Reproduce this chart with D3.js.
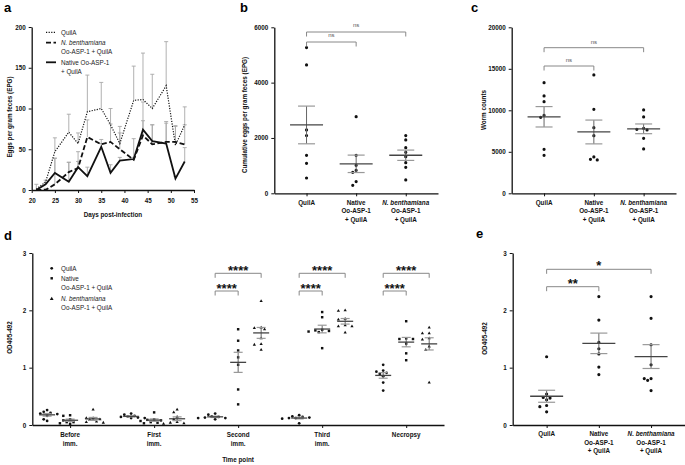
<!DOCTYPE html>
<html>
<head>
<meta charset="utf-8">
<script src="https://cdn.jsdelivr.net/npm/d3@7"></script>
<style>
body{margin:0;background:#fff}
text{font-family:"Liberation Sans",Arial,sans-serif}
</style>
</head>
<body>
<svg width="685" height="465"></svg>
<script>
// ---- panel a : EPG over time ----
var days = [21, 23, 25, 28, 30, 32, 35, 37, 39, 42, 44, 46, 49, 51, 53];
var epgQuilA      = [1, 10, 47, 71, 57, 96, 100, 80, 57, 110, 111, 100, 128, 55, 80];
var epgQuilAUp    = [7, 12, 64, 93, 70, 141, 132, 100, 78, 152, 168, 142, 182, 79, 102];
var epgNbenth     = [0, 0, 7, 22, 27, 65, 56, 59, 50, 37, 67, 56, 59, 59, 56];
var epgNbenthUp   = [0, 2, 39, 34, 47, 86, 62, 81, 70, 63, 108, 80, 84, 78, 80];
var epgNative     = [0, 7, 21, 10, 28, 17, 53, 21, 36, 38, 74, 60, 57, 14, 35];
var epgNativeUp   = [0, 9, 39, 34, 35, 28, 57, 31, 40, 40, 85, 80, 82, 17, 52];
var xTicksA = [20, 25, 30, 35, 40, 45, 50, 55];
var yTicksA = [0, 50, 100, 150, 200];

// ---- panels b, c, e : groups ----
var catsBCE = [["QuilA"], ["Native", "Oo-ASP-1", "+ QuilA"], ["N. benthamiana", "Oo-ASP-1", "+ QuilA"]];
var cumQuilA  = [5266, 4640, 2290, 2085, 1374, 1085, 554];
var cumNative = [2771, 1374, 1012, 831, 759, 422, 289];
var cumNbenth = [2085, 1928, 1650, 1482, 1325, 1108, 940, 482];
var yTicksB = [0, 2000, 4000, 6000];

var wormQuilA  = [13333, 11727, 11044, 9398, 9157, 5301, 4578];
var wormNative = [14257, 10120, 7912, 6948, 4377, 4016, 4096];
var wormNbenth = [10040, 9197, 7831, 7711, 7630, 6626, 5341];
var yTicksC = [0, 5000, 10000, 15000, 20000];

var odQuilA  = [1.19, 0.54, 0.48, 0.47, 0.44, 0.34, 0.32, 0.23];
var odNative = [2.24, 1.83, 1.44, 1.33, 1.24, 1.01, 0.88];
var odNbenth = [2.24, 1.86, 1.40, 1.05, 0.81, 0.78, 0.60, 0.81];
var yTicksOD = [0, 1, 2, 3];

var sigB = ["ns", "ns"];
var sigC = ["ns", "ns"];
var sigE = ["*", "**"];

// ---- panel d : OD by time point ----
var catsD = [["Before", "imm."], ["First", "imm."], ["Second", "imm."], ["Third", "imm."], ["Necropsy"]];
var tpQuilA = [
  [0.07, 0.16, 0.20, 0.23, 0.26, 0.19, 0.10, 0.21],
  [0.13, 0.15, 0.12, 0.18, 0.20, 0.12, 0.14, 0.16],
  [0.12, 0.15, 0.18, 0.20, 0.10, 0.13, 0.14, 0.12],
  [0.17, 0.15, 0.13, 0.12, 0.12, 0.11, 0.03, 0.14],
  [1.05, 0.95, 0.93, 0.91, 0.89, 0.85, 0.74, 0.60]];
var tpNative = [
  [0.05, 0.08, 0.03, 0.10, 0.16, 0.17, 0.05, 0.02],
  [0.22, 0.05, 0.08, 0.10, 0.03, 0.09, 0.04, 0.07],
  [1.67, 1.47, 1.30, 1.18, 1.05, 0.62, 0.36],
  [1.97, 1.88, 1.65, 1.63, 1.62, 1.64, 1.66, 1.34],
  [1.81, 1.50, 1.51, 1.50, 1.42, 1.25, 1.13]];
var tpNbenth = [
  [0.27, 0.12, 0.10, 0.06, 0.05, 0.04, 0.12, 0.09],
  [0.27, 0.22, 0.10, 0.14, 0.05, 0.03, 0.02, 0.04],
  [2.16, 1.70, 1.69, 1.67, 1.51, 1.41, 1.40, 1.31],
  [2.00, 1.99, 1.84, 1.74, 1.72, 1.72, 1.61, 1.85],
  [1.70, 1.60, 1.51, 1.49, 1.37, 1.31, 0.74, 1.60]];
var sigD = ["****", "****"];

var svg = d3.select("svg");
var FS = 6.3;
var plain = function (d) { return String(d); };

function styleAxis(g) {
  g.select(".domain").attr("stroke", "#111").attr("stroke-width", 1.3);
  g.selectAll(".tick line").attr("stroke", "#111").attr("stroke-width", 1);
  g.selectAll(".tick text").attr("font-size", FS).attr("font-weight", "bold").attr("fill", "#111")
    .attr("font-family", '"Liberation Sans",Arial,sans-serif');
}
function letter(t, x, y) {
  svg.append("text").attr("x", x).attr("y", y).attr("font-size", 13).attr("font-weight", "bold").text(t);
}
function yTitle(t, x, y) {
  svg.append("text").attr("transform", "translate(" + x + "," + y + ") rotate(-90)")
    .attr("text-anchor", "middle").attr("font-size", FS).attr("font-weight", "bold").attr("fill", "#111").text(t);
}
function catLabel(lines, x, y) {
  lines.forEach(function (l, i) {
    svg.append("text").attr("x", x).attr("y", y + i * 8.4).attr("text-anchor", "middle")
      .attr("font-size", FS).attr("font-weight", "bold").attr("fill", "#111")
      .attr("font-style", l.indexOf("N. ") === 0 ? "italic" : "normal").text(l);
  });
}
// beeswarm offsets, so dots with close values sit side by side
function swarm(vals, y, r, step) {
  var placed = [], out = [];
  var idx = vals.map(function (v, i) { return i; }).sort(function (a, b) { return vals[b] - vals[a]; });
  idx.forEach(function (i) {
    var py = y(vals[i]);
    for (var k = 0; k < 30; k++) {
      var dx = (k % 2 ? -1 : 1) * Math.ceil(k / 2) * step;
      var ok = placed.every(function (p) { return Math.hypot(p[0] - dx, p[1] - py) >= 2 * r + 0.5; });
      if (ok) { placed.push([dx, py]); out[i] = [dx, py]; break; }
    }
  });
  return out;
}
function group(cx, y, vals, sym, symSize, meanW, capW) {
  var g = svg.append("g");
  var pos = swarm(vals, y, 1.6, 3.4);
  g.selectAll("path").data(pos).enter().append("path")
    .attr("d", d3.symbol().type(sym).size(symSize))
    .attr("transform", function (p) { return "translate(" + (cx + p[0]) + "," + p[1] + ")"; })
    .attr("fill", "#111");
  var m = d3.mean(vals), se = d3.deviation(vals) / Math.sqrt(vals.length);
  g.append("line").attr("x1", cx).attr("x2", cx).attr("y1", y(m + se)).attr("y2", y(m - se))
    .attr("stroke", "#666").attr("stroke-width", 1);
  [m + se, m - se].forEach(function (v) {
    g.append("line").attr("x1", cx - capW / 2).attr("x2", cx + capW / 2).attr("y1", y(v)).attr("y2", y(v))
      .attr("stroke", "#999").attr("stroke-width", 1.2);
  });
  g.append("line").attr("x1", cx - meanW / 2).attr("x2", cx + meanW / 2).attr("y1", y(m)).attr("y2", y(m))
    .attr("stroke", "#444").attr("stroke-width", 1.3);
}
function bracket(xa, xb, yb, label, ly, stars, col) {
  svg.append("path").attr("d", "M" + xa + "," + (yb + 4.5) + "V" + yb + "H" + xb + "V" + (yb + 4.5))
    .attr("fill", "none").attr("stroke", "#888").attr("stroke-width", 1);
  var fs = stars ? 13 : 6;
  svg.append("text").attr("x", (xa + xb) / 2).attr("y", ly + (stars ? 7.6 : 2.2))
    .attr("text-anchor", "middle").attr("font-size", fs).attr("font-weight", stars ? "bold" : "normal")
    .attr("fill", col).text(label);
}

// ================= panel a =================
(function () {
  var x = d3.scaleLinear().domain([20, 55]).range([31.7, 194]);
  var y = d3.scaleLinear().domain([0, 200]).range([190, 27]);
  var gx = svg.append("g").attr("transform", "translate(0,190)")
    .call(d3.axisBottom(x).tickValues(xTicksA).tickFormat(plain).tickSize(3).tickSizeOuter(0).tickPadding(6));
  styleAxis(gx);
  var gy = svg.append("g").attr("transform", "translate(31.7,0)")
    .call(d3.axisLeft(y).tickValues(yTicksA).tickFormat(plain).tickSize(3).tickSizeOuter(0));
  styleAxis(gy);

  var series = [[epgQuilA, epgQuilAUp, "1.2,1.4", 1.2], [epgNbenth, epgNbenthUp, "5,2.5", 1.8], [epgNative, epgNativeUp, null, 1.8]];
  var eg = svg.append("g");
  series.forEach(function (s) {
    days.forEach(function (d, i) {
      if (s[1][i] <= s[0][i]) return;
      eg.append("line").attr("x1", x(d)).attr("x2", x(d)).attr("y1", y(s[0][i])).attr("y2", y(s[1][i]))
        .attr("stroke", "#a8a8a8").attr("stroke-width", 0.9);
      eg.append("line").attr("x1", x(d) - 2).attr("x2", x(d) + 2).attr("y1", y(s[1][i])).attr("y2", y(s[1][i]))
        .attr("stroke", "#a8a8a8").attr("stroke-width", 0.9);
    });
  });
  var line = d3.line().x(function (d, i) { return x(days[i]); }).y(function (d) { return y(d); });
  series.forEach(function (s) {
    svg.append("path").datum(s[0]).attr("d", line).attr("fill", "none").attr("stroke", "#111")
      .attr("stroke-width", s[3]).attr("stroke-dasharray", s[2]);
  });
  // legend
  var leg = [[32.3, ["QuilA"], series[0]], [42.7, ["N. benthamiana", "Oo-ASP-1 + QuilA"], series[1]], [62.3, ["Native Oo-ASP-1", "+ QuilA"], series[2]]];
  leg.forEach(function (l) {
    svg.append("line").attr("x1", 46).attr("x2", 56).attr("y1", l[0]).attr("y2", l[0])
      .attr("stroke", "#111").attr("stroke-width", l[2][3]).attr("stroke-dasharray", l[2][2]);
    l[1].forEach(function (t, i) {
      svg.append("text").attr("x", 61).attr("y", l[0] + 2.2 + i * 9.5).attr("font-size", FS).attr("fill", "#222")
        .attr("font-style", t.indexOf("N. ") === 0 ? "italic" : "normal").text(t);
    });
  });
  svg.append("text").attr("x", 112.9).attr("y", 217).attr("text-anchor", "middle").attr("font-size", FS)
    .attr("font-weight", "bold").attr("fill", "#111").text("Days post-infection");
  yTitle("Eggs per gram feces (EPG)", 12.3, 117);
  letter("a", 4, 12);
})();

// ============ panels b, c, e ============
function dotPanel(x0, x1, yr, dom, ticks, sets, sig, br, labY, titleX, titleY, title) {
  var x = d3.scalePoint().domain([0, 1, 2]).range([x0, x1]).padding(0.65);
  var y = d3.scaleLinear().domain(dom).range(yr);
  var gy = svg.append("g").attr("transform", "translate(" + x0 + ",0)")
    .call(d3.axisLeft(y).tickValues(ticks).tickFormat(plain).tickSize(3).tickSizeOuter(0));
  styleAxis(gy);
  var gx = svg.append("g").attr("transform", "translate(0," + yr[0] + ")")
    .call(d3.axisBottom(x).tickSize(3).tickSizeOuter(0).tickFormat(""));
  styleAxis(gx);
  sets.forEach(function (v, i) { group(x(i), y, v, d3.symbolCircle, 8, 33, 17); });
  catsBCE.forEach(function (c, i) { catLabel(c, x(i), labY); });
  var stars = sig[0].indexOf("*") === 0;
  bracket(x(0), x(2), br[0], sig[0], br[1], stars, stars ? "#111" : "#555");
  bracket(x(0), x(1), br[2], sig[1], br[3], stars, stars ? "#111" : "#555");
  yTitle(title, titleX, titleY);
}
dotPanel(274.3, 438, [193.3, 27.3], [0, 6000], yTicksB, [cumQuilA, cumNative, cumNbenth], sigB,
  [32, 25, 42, 35], 205, 247.3, 115, "Cumulative eggs per gram feces (EPG)");
letter("b", 240, 12);
dotPanel(511.7, 676, [193.3, 27.3], [0, 20000], yTicksC, [wormQuilA, wormNative, wormNbenth], sigC,
  [47.7, 41.7, 66, 59.3], 205, 485.6, 110, "Worm counts");
letter("c", 471, 12);
dotPanel(512.7, 685, [425, 253], [0, 3], yTicksOD, [odQuilA, odNative, odNbenth], sigE,
  [269.3, 262.7, 286.7, 280], 436.3, 487.3, 338.5, "OD405-492");
letter("e", 476, 238);

// ================= panel d =================
(function () {
  var x = d3.scalePoint().domain(d3.range(catsD.length)).range([32.3, 444]).padding(0.45);
  var y = d3.scaleLinear().domain([0, 3]).range([425, 253]);
  var gy = svg.append("g").attr("transform", "translate(32.3,0)")
    .call(d3.axisLeft(y).tickValues(yTicksOD).tickFormat(plain).tickSize(3).tickSizeOuter(0));
  styleAxis(gy);
  var gx = svg.append("g").attr("transform", "translate(0,425)")
    .call(d3.axisBottom(x).tickSize(3).tickSizeOuter(0).tickFormat(""));
  styleAxis(gx);
  var off = 23;
  var syms = [[tpQuilA, d3.symbolCircle, 6, -off], [tpNative, d3.symbolSquare, 6, 0], [tpNbenth, d3.symbolTriangle, 4.5, off]];
  catsD.forEach(function (c, i) {
    syms.forEach(function (s) { group(x(i) + s[3], y, s[0][i], s[1], s[2], 16, 9); });
    catLabel(c, x(i), 437.3);
    if (i >= 2) {
      bracket(x(i) - off, x(i) + off, 273.3, sigD[0], 267.3, true, "#111");
      bracket(x(i) - off, x(i), 291, sigD[1], 285, true, "#111");
    }
  });
  // legend
  var leg = [[268.3, ["QuilA"], d3.symbolCircle], [278.3, ["Native", "Oo-ASP-1 + QuilA"], d3.symbolSquare], [299, ["N. benthamiana", "Oo-ASP-1 + QuilA"], d3.symbolTriangle]];
  leg.forEach(function (l) {
    svg.append("path").attr("d", d3.symbol().type(l[2]).size(6)).attr("transform", "translate(51.7," + l[0] + ")").attr("fill", "#111");
    l[1].forEach(function (t, i) {
      svg.append("text").attr("x", 61).attr("y", l[0] + 2.2 + i * 9).attr("font-size", FS).attr("fill", "#222")
        .attr("font-style", t.indexOf("N. ") === 0 ? "italic" : "normal").text(t);
    });
  });
  svg.append("text").attr("x", 238).attr("y", 462).attr("text-anchor", "middle").attr("font-size", FS)
    .attr("font-weight", "bold").attr("fill", "#111").text("Time point");
  yTitle("OD405-492", 12.3, 337.5);
  letter("d", 4, 240);
})();
</script>
</body>
</html>
